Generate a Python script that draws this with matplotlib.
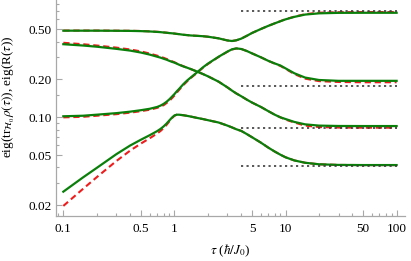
import matplotlib
matplotlib.use('Agg')
import matplotlib.pyplot as plt
from matplotlib.ticker import FixedLocator, FixedFormatter, NullFormatter, LogLocator

# ---------------- data ----------------
tau = [0.1, 0.15, 0.2, 0.3, 0.4, 0.5, 0.6, 0.7, 0.75, 0.8,
       0.85, 0.9, 0.95, 1.0, 1.05, 1.1, 1.2, 1.3, 1.4, 1.6,
       1.8, 2.0, 2.5, 3.0, 3.3, 3.6, 4.0, 4.5, 5, 6,
       7, 8, 9, 10, 12, 15, 20, 30, 50, 100]

# eigenvalues of tr_H0 rho(tau)  (green, solid)
g1 = [0.488, 0.488, 0.488, 0.487, 0.486, 0.484, 0.481, 0.477, 0.475, 0.472,
      0.470, 0.467, 0.465, 0.463, 0.460, 0.458, 0.453, 0.450, 0.447, 0.444,
      0.441, 0.437, 0.424, 0.408, 0.404, 0.409, 0.422, 0.445, 0.468, 0.503,
      0.533, 0.558, 0.580, 0.600, 0.628, 0.655, 0.670, 0.676, 0.677, 0.677]
g2 = [0.381, 0.372, 0.364, 0.350, 0.339, 0.327, 0.315, 0.303, 0.298, 0.292,
      0.287, 0.281, 0.276, 0.272, 0.267, 0.262, 0.254, 0.248, 0.242, 0.231,
      0.221, 0.212, 0.192, 0.173, 0.163, 0.155, 0.147, 0.138, 0.131, 0.121,
      0.112, 0.105, 0.100, 0.097, 0.092, 0.088, 0.0860, 0.0854, 0.0853, 0.0853]
g3 = [0.102, 0.103, 0.105, 0.108, 0.111, 0.114, 0.117, 0.121, 0.124, 0.128,
      0.133, 0.139, 0.146, 0.153, 0.161, 0.168, 0.183, 0.196, 0.207, 0.228,
      0.249, 0.267, 0.303, 0.333, 0.347, 0.353, 0.349, 0.336, 0.322, 0.300,
      0.281, 0.268, 0.258, 0.245, 0.224, 0.207, 0.198, 0.195, 0.195, 0.195]
g4 = [0.0257, 0.0333, 0.0397, 0.0510, 0.0598, 0.0665, 0.0722, 0.0778, 0.0810, 0.0848,
      0.0893, 0.0945, 0.0995, 0.1035, 0.1050, 0.1050, 0.1040, 0.1028, 0.1015, 0.0990,
      0.0970, 0.0950, 0.0910, 0.0860, 0.0832, 0.0805, 0.0780, 0.0735, 0.0695, 0.0630,
      0.0575, 0.0535, 0.0505, 0.0482, 0.0455, 0.0436, 0.0424, 0.0419, 0.0418, 0.0418]

# eigenvalues of R(tau)  (red, dashed)
r1 = [0.489, 0.489, 0.489, 0.488, 0.487, 0.485, 0.482, 0.478, 0.476, 0.473,
      0.470, 0.467, 0.465, 0.463, 0.460, 0.458, 0.453, 0.450, 0.447, 0.444,
      0.441, 0.437, 0.424, 0.408, 0.404, 0.409, 0.422, 0.445, 0.468, 0.503,
      0.533, 0.558, 0.581, 0.602, 0.630, 0.660, 0.678, 0.684, 0.686, 0.686]
r2 = [0.391, 0.381, 0.372, 0.358, 0.346, 0.334, 0.321, 0.309, 0.303, 0.297,
      0.291, 0.285, 0.279, 0.274, 0.268, 0.263, 0.255, 0.248, 0.242, 0.231,
      0.221, 0.212, 0.192, 0.173, 0.163, 0.155, 0.147, 0.138, 0.131, 0.121,
      0.112, 0.105, 0.100, 0.096, 0.091, 0.086, 0.0838, 0.0830, 0.0828, 0.0828]
r3 = [0.100, 0.101, 0.103, 0.106, 0.109, 0.112, 0.115, 0.119, 0.122, 0.125,
      0.130, 0.135, 0.142, 0.149, 0.157, 0.165, 0.180, 0.193, 0.205, 0.226,
      0.247, 0.265, 0.302, 0.332, 0.346, 0.352, 0.349, 0.336, 0.322, 0.300,
      0.281, 0.267, 0.256, 0.243, 0.221, 0.203, 0.194, 0.191, 0.190, 0.190]
r4 = [0.0198, 0.0270, 0.0335, 0.0450, 0.0545, 0.0620, 0.0683, 0.0745, 0.0780, 0.0822,
      0.0872, 0.0930, 0.0985, 0.1030, 0.1050, 0.1050, 0.1040, 0.1028, 0.1015, 0.0990,
      0.0970, 0.0950, 0.0910, 0.0860, 0.0832, 0.0805, 0.0780, 0.0735, 0.0695, 0.0630,
      0.0575, 0.0535, 0.0505, 0.0482, 0.0455, 0.0436, 0.0424, 0.0419, 0.0418, 0.0418]

# asymptotic values (black dotted)
asym_tau = [4.0, 100.0]
asym_levels = [0.697, 0.179, 0.0818, 0.0411]

xticks_major = [0.1, 0.5, 1, 5, 10, 50, 100]
xtick_labels = ['0.1', '0.5', '1', '5', '10', '50', '100']
yticks_major = [0.02, 0.05, 0.10, 0.20, 0.50]
ytick_labels = ['0.02', '0.05', '0.10', '0.20', '0.50']
yticks_minor = [0.03, 0.04, 0.06, 0.07, 0.08, 0.09, 0.15, 0.3, 0.4, 0.6, 0.7, 0.8]

# ---------------- style ----------------
plt.rcParams['font.family'] = ['Liberation Serif', 'DejaVu Serif']
plt.rcParams['mathtext.fontset'] = 'stix'

W, H = 411, 261
fig = plt.figure(figsize=(W / 100, H / 100), dpi=100)
x0, x1, ybot, ytop = 56, 405, 216, 0
ax = fig.add_axes([x0 / W, 1 - ybot / H, (x1 - x0) / W, (ybot - ytop) / H])
ax.set_xscale('log')
ax.set_yscale('log')
ax.set_xlim(0.0859, 119)
ax.set_ylim(0.01647, 0.855)

red = '#ee1c1c'
green = '#0a7f0a'
for r in (r1, r2, r3, r4):
    ax.plot(tau, r, color=red, lw=1.5, dashes=(3.0, 1.8), solid_capstyle='butt')
for g in (g1, g2, g3, g4):
    ax.plot(tau, g, color=green, lw=1.6)
for lv in asym_levels:
    ax.plot(asym_tau, [lv, lv], color='#3a3a3a', lw=1.2, dashes=(1.3, 2.0))

for s in ('top', 'right'):
    ax.spines[s].set_visible(False)
for s in ('left', 'bottom'):
    ax.spines[s].set_color('#a8a8a8')
    ax.spines[s].set_linewidth(0.9)

ax.xaxis.set_major_locator(FixedLocator(xticks_major))
ax.xaxis.set_major_formatter(FixedFormatter(xtick_labels))
ax.xaxis.set_minor_locator(LogLocator(base=10, subs=range(1, 10), numticks=20))
ax.xaxis.set_minor_formatter(NullFormatter())
ax.yaxis.set_major_locator(FixedLocator(yticks_major))
ax.yaxis.set_major_formatter(FixedFormatter(ytick_labels))
ax.yaxis.set_minor_locator(FixedLocator(yticks_minor))
ax.yaxis.set_minor_formatter(NullFormatter())

ax.tick_params(which='both', direction='in', color='#a8a8a8', labelsize=9.5, width=0.8)
ax.tick_params(which='major', length=4, pad=3)
ax.tick_params(which='minor', length=2)
ax.tick_params(axis='x', which='major', pad=5)

ax.set_xlabel(r'$\tau$ ($\hbar/J_0$)', fontsize=9.5)
ax.xaxis.set_label_coords(0.5, -0.125)
ax.set_ylabel(r'eig(tr$_{\mathcal{H}_0}\rho(\tau)$), eig(R($\tau$))', fontsize=9.5)
ax.yaxis.set_label_coords(-0.112, 0.55)

fig.savefig('out.png', dpi=100)
